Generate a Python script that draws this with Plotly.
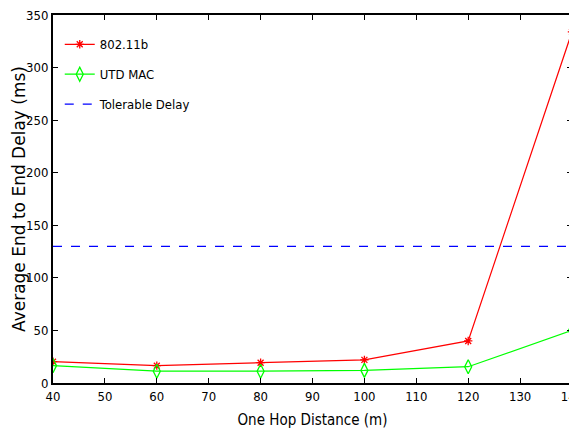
import plotly.graph_objects as go

distance = [40, 60, 80, 100, 120, 140]
delay_80211b = [20.3, 16.5, 19.3, 22.0, 40.0, 334.0]
delay_utd = [16.5, 11.2, 11.2, 12.0, 15.5, 50.0]
tolerable_delay = 130
x_ticks = [40, 50, 60, 70, 80, 90, 100, 110, 120, 130, 140]
y_ticks = [0, 50, 100, 150, 200, 250, 300, 350]
y_title = "Average End to End Delay (ms)"

narrow = "DejaVu Sans Condensed, Liberation Sans Narrow, Arial Narrow, Liberation Sans, Arial, sans-serif"

fig = go.Figure()
fig.add_trace(go.Scatter(
    x=distance, y=delay_80211b, name="802.11b", mode="lines+markers", legendgroup="a",
    line=dict(color="#ff0000", width=1.2),
    marker=dict(symbol="asterisk-open", size=7, line=dict(color="#ff0000", width=1.3)),
))
fig.add_trace(go.Scatter(
    x=distance, y=delay_utd, name="UTD MAC", mode="lines+markers", legendgroup="b",
    line=dict(color="#00ff00", width=1.2),
    marker=dict(symbol="diamond-tall-open", size=10, color="#00ff00",
                line=dict(color="#00ff00", width=1.3)),
))
fig.add_trace(go.Scatter(
    x=[distance[0], distance[-1]], y=[tolerable_delay, tolerable_delay],
    name="Tolerable Delay", mode="lines", legendgroup="c",
    line=dict(color="#0000ff", width=1.2, dash="dash"),
))

axis_common = dict(
    showline=True, linecolor="black", linewidth=2, mirror="ticks",
    ticks="inside", ticklen=5, tickcolor="black", tickwidth=1,
    showgrid=False, zeroline=False, ticklabeloverflow="allow", automargin=False,
    tickfont=dict(family=narrow, size=13, color="black"),
)

fig.update_layout(
    width=569, height=421,
    margin=dict(l=45, r=5, t=7, b=46),
    paper_bgcolor="white", plot_bgcolor="white",
    xaxis=dict(range=[40, 140], tickvals=x_ticks,
               title=dict(text="One Hop Distance (m)",
                          font=dict(family=narrow, size=15, color="black")),
               **axis_common),
    yaxis=dict(range=[0, 350], tickvals=y_ticks, **axis_common),
    legend=dict(x=0.013, y=0.961, xanchor="left", yanchor="top",
                bgcolor="rgba(255,255,255,0)", borderwidth=0,
                font=dict(family=narrow, size=13, color="black"),
                tracegroupgap=10, itemwidth=30),
    showlegend=True,
    annotations=[dict(
        text=y_title, textangle=-90, xref="paper", yref="paper",
        x=0, y=0.5, xanchor="center", yanchor="middle", xshift=-34,
        showarrow=False,
        font=dict(family="DejaVu Sans, Liberation Sans, Arial, sans-serif", size=17, color="black"),
    )],
)

fig.write_html("out.html")
